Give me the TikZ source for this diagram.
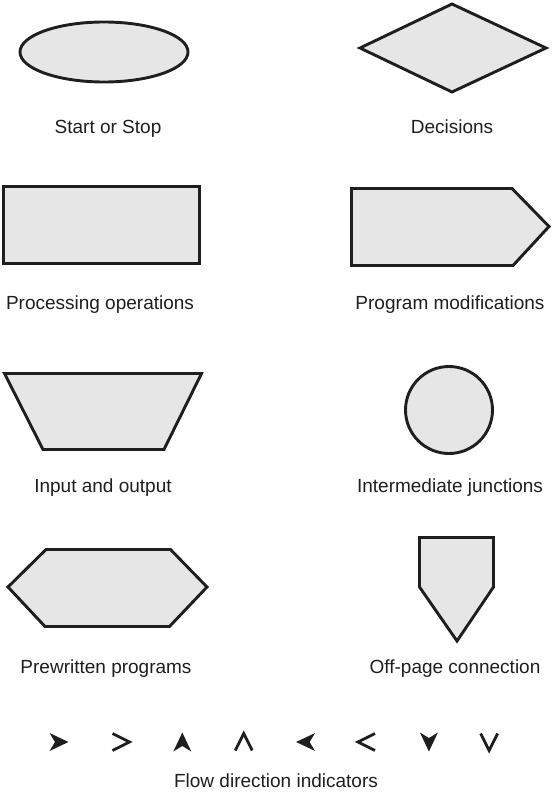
\documentclass[tikz,border=0pt]{standalone}
\usepackage{fontspec}
\setmainfont{Liberation Sans}
\usetikzlibrary{positioning, calc}

\definecolor{symbolgray}{HTML}{E6E6E6}
\definecolor{inkblack}{HTML}{1E1E1E}

\begin{document}
\begin{tikzpicture}[
    x=1pt, y=-1pt, % pixel-like units, y grows downwards
    % Styles
    symbol/.style={ % Flowchart symbol outline
        draw=inkblack,
        fill=symbolgray,
        line width=2.9pt
    },
    caption/.style={ % Text under each symbol
        anchor=base,
        inner sep=0pt,
        text=inkblack,
        font=\fontsize{19}{22}\selectfont
    },
    arrowink/.style={
        inkblack
    },
    pics/headfill/.style={ % Solid flow indicator
        code={\fill[arrowink] (9.5,0) .. controls (0,-4.3) .. (-9.5,-9)
            -- (-4,0) -- (-9.5,9) .. controls (0,4.3) .. cycle;}
    },
    pics/headopen/.style={ % Open flow indicator
        code={\draw[arrowink, line width=2.8pt, line join=miter]
            (-8.5,-8.5) .. controls (0,-4.5) .. (8.5,0) .. controls (0,4.5) .. (-8.5,8.5);}
    }
]
    \useasboundingbox (0,0) rectangle (552,795);

    % Start or Stop
    \draw[symbol] (104,52) ellipse [x radius=84, y radius=30];
    \node[caption] (startstop) at (108,133) {Start or Stop};

    % Decisions
    \draw[symbol] (360,48) -- (452,4) -- (546,48) -- (452,92) -- cycle;
    \node[caption] (decisions) at (452,133) {Decisions};

    % Processing operations
    \draw[symbol] (3.5,186.5) rectangle (199.5,263.5);
    \node[caption] (processing) at (100,309) {Processing operations};

    % Program modifications
    \draw[symbol] (351.5,188.5) -- (512,188.5) -- (549,226.5) -- (513,265.5) -- (351.5,265.5) -- cycle;
    \node[caption] (modifications) at (450,309) {Program modifications};

    % Input and output
    \draw[symbol] (4.5,373.5) -- (201.5,373.5) -- (164,449.5) -- (43,449.5) -- cycle;
    \node[caption] (inout) at (103,492) {Input and output};

    % Intermediate junctions
    \draw[symbol] (449,410) circle [radius=43.5];
    \node[caption] (junctions) at (450,492) {Intermediate junctions};

    % Prewritten programs
    \draw[symbol] (8,587) -- (46,549.5) -- (170.5,549.5) -- (207,587) -- (169.5,626.5) -- (45,626.5) -- cycle;
    \node[caption] (prewritten) at (106,673) {Prewritten programs};

    % Off-page connection
    \draw[symbol] (419.5,537.5) -- (493.5,537.5) -- (493.5,587) -- (457,641) -- (419.5,587) -- cycle;
    \node[caption] (offpage) at (455,673) {Off-page connection};

    % Flow direction indicators
    \foreach \ang [count=\i from 0] in {0,90,180,270} {
        \pic[rotate=\ang] at ({59+123.3*\i},742) {headfill};
        \pic[rotate=\ang] at ({121+122.7*\i},742) {headopen};
    }
    \node[caption] (flowdir) at (276,787) {Flow direction indicators};
\end{tikzpicture}
\end{document}
